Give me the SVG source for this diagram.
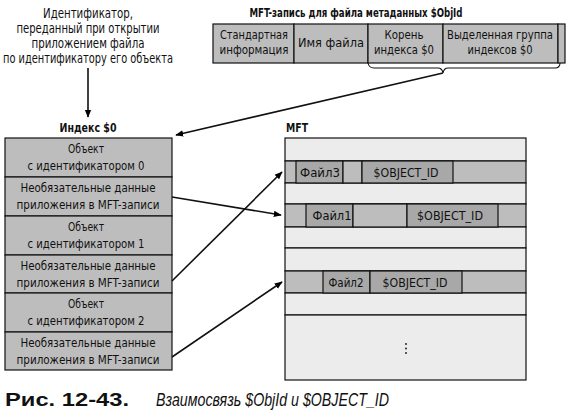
<svg xmlns="http://www.w3.org/2000/svg" width="570" height="413" viewBox="0 0 570 413">
<defs>
<marker id="ah" viewBox="0 0 10 10" refX="9" refY="5" markerWidth="8" markerHeight="8" markerUnits="userSpaceOnUse" orient="auto">
<path d="M0,1 L10,5 L0,9 z" fill="#000"/>
</marker>
</defs>
<style>
text{font-family:"DejaVu Sans Condensed","Liberation Sans",sans-serif;fill:#111;}
.t{font-size:13.5px;text-anchor:middle;}
.c{font-size:13px;text-anchor:middle;}
.b{font-size:13px;font-weight:bold;}
.cell{stroke:#111;stroke-width:1.2;}
.g{fill:#bdbdbd;}
.lt{fill:#ececec;}
.dk{fill:#a8a8a8;}
.ln{stroke:#111;stroke-width:1.6;fill:none;}
.cap{font-family:"Liberation Sans",Arial,sans-serif;}
</style>
<rect width="570" height="413" fill="#fff"/>

<g id="note">
<text class="t" x="88" y="18" textLength="90" lengthAdjust="spacingAndGlyphs">Идентификатор,</text>
<text class="t" x="88" y="33" textLength="143" lengthAdjust="spacingAndGlyphs">переданный при открытии</text>
<text class="t" x="88" y="48" textLength="113" lengthAdjust="spacingAndGlyphs">приложением файла</text>
<text class="t" x="88" y="63" textLength="170" lengthAdjust="spacingAndGlyphs">по идентификатору его объекта</text>
</g>

<g id="mft-record">
<text class="b" x="356" y="17" text-anchor="middle" textLength="213" lengthAdjust="spacingAndGlyphs">MFT-запись для файла метаданных $ObjId</text>
<rect class="cell g" x="213" y="24" width="81" height="39"/>
<rect class="cell g" x="294" y="24" width="74" height="39"/>
<rect class="cell g" x="368" y="24" width="75" height="39"/>
<rect class="cell g" x="443" y="24" width="115" height="39"/>
<rect class="cell g" x="558" y="24" width="7" height="39"/>
<text class="c" x="254" y="39" textLength="68" lengthAdjust="spacingAndGlyphs">Стандартная</text>
<text class="c" x="254" y="54" textLength="69" lengthAdjust="spacingAndGlyphs">информация</text>
<text class="c" x="331" y="47" textLength="66" lengthAdjust="spacingAndGlyphs">Имя файла</text>
<text class="c" x="404" y="39" textLength="39" lengthAdjust="spacingAndGlyphs">Корень</text>
<text class="c" x="404" y="54" textLength="60" lengthAdjust="spacingAndGlyphs">индекса $0</text>
<text class="c" x="500" y="39" textLength="106" lengthAdjust="spacingAndGlyphs">Выделенная группа</text>
<text class="c" x="500" y="54" textLength="65" lengthAdjust="spacingAndGlyphs">индексов $0</text>
</g>

<g id="index">
<text class="b" x="88" y="132" text-anchor="middle" textLength="57" lengthAdjust="spacingAndGlyphs">Индекс $0</text>
<rect class="cell g" x="5" y="138" width="167" height="39"/>
<rect class="cell g" x="5" y="177" width="167" height="39"/>
<rect class="cell g" x="5" y="216" width="167" height="39"/>
<rect class="cell g" x="5" y="255" width="167" height="38"/>
<rect class="cell g" x="5" y="293" width="167" height="39"/>
<rect class="cell g" x="5" y="332" width="167" height="38"/>
<text class="c" x="86" y="153" textLength="36" lengthAdjust="spacingAndGlyphs">Объект</text>
<text class="c" x="86" y="170" textLength="117" lengthAdjust="spacingAndGlyphs">с идентификатором 0</text>
<text class="c" x="88" y="192" textLength="135" lengthAdjust="spacingAndGlyphs">Необязательные данные</text>
<text class="c" x="88" y="209" textLength="143" lengthAdjust="spacingAndGlyphs">приложения в MFT-записи</text>
<text class="c" x="86" y="231" textLength="36" lengthAdjust="spacingAndGlyphs">Объект</text>
<text class="c" x="86" y="248" textLength="117" lengthAdjust="spacingAndGlyphs">с идентификатором 1</text>
<text class="c" x="88" y="270" textLength="135" lengthAdjust="spacingAndGlyphs">Необязательные данные</text>
<text class="c" x="88" y="287" textLength="143" lengthAdjust="spacingAndGlyphs">приложения в MFT-записи</text>
<text class="c" x="86" y="308" textLength="36" lengthAdjust="spacingAndGlyphs">Объект</text>
<text class="c" x="86" y="325" textLength="117" lengthAdjust="spacingAndGlyphs">с идентификатором 2</text>
<text class="c" x="88" y="347" textLength="135" lengthAdjust="spacingAndGlyphs">Необязательные данные</text>
<text class="c" x="88" y="364" textLength="143" lengthAdjust="spacingAndGlyphs">приложения в MFT-записи</text>
</g>

<g id="mft">
<text class="b" x="286" y="132" textLength="22" lengthAdjust="spacingAndGlyphs">MFT</text>
<rect class="cell lt" x="285" y="138" width="241" height="23"/>
<rect class="cell g" x="285" y="161" width="241" height="22"/>
<rect class="cell lt" x="285" y="183" width="241" height="21"/>
<rect class="cell g" x="285" y="204" width="241" height="23"/>
<rect class="cell lt" x="285" y="227" width="241" height="21"/>
<rect class="cell lt" x="285" y="248" width="241" height="23"/>
<rect class="cell g" x="285" y="271" width="241" height="22"/>
<rect class="cell lt" x="285" y="293" width="241" height="22"/>
<rect class="cell lt" x="285" y="315" width="241" height="65"/>
<rect class="cell dk" x="296" y="161" width="47" height="22"/>
<rect class="cell g" x="343" y="161" width="19" height="22"/>
<rect class="cell dk" x="362" y="161" width="91" height="22"/>
<rect class="cell dk" x="306" y="204" width="47" height="23"/>
<rect class="cell g" x="353" y="204" width="54" height="23"/>
<rect class="cell dk" x="407" y="204" width="91" height="23"/>
<rect class="cell dk" x="323" y="271" width="47" height="22"/>
<rect class="cell dk" x="370" y="271" width="92" height="22"/>
<text class="c" x="320" y="177" textLength="40" lengthAdjust="spacingAndGlyphs">Файл3</text>
<text class="c" x="406" y="177" textLength="65" lengthAdjust="spacingAndGlyphs">$OBJECT_ID</text>
<text class="c" x="332" y="220" textLength="39" lengthAdjust="spacingAndGlyphs">Файл1</text>
<text class="c" x="450" y="220" textLength="66" lengthAdjust="spacingAndGlyphs">$OBJECT_ID</text>
<text class="c" x="346" y="287" textLength="35" lengthAdjust="spacingAndGlyphs">Файл2</text>
<text class="c" x="415" y="287" textLength="65" lengthAdjust="spacingAndGlyphs">$OBJECT_ID</text>
<circle cx="406" cy="344" r="0.9" fill="#111"/>
<circle cx="406" cy="348.5" r="0.9" fill="#111"/>
<circle cx="406" cy="353" r="0.9" fill="#111"/>
</g>

<g id="connectors">
<line class="ln" x1="88" y1="68" x2="88" y2="117" marker-end="url(#ah)"/>
<path d="M368,63 Q369,68 374,68 L438,68 Q442,68 443,73 Q444,68 448,68 L555,68 Q560,68 560,63" stroke="#111" stroke-width="1.1" fill="none"/>
<line class="ln" x1="443" y1="73" x2="176" y2="135" marker-end="url(#ah)"/>
<line class="ln" x1="172" y1="197" x2="281" y2="215" marker-end="url(#ah)"/>
<line class="ln" x1="172" y1="281" x2="282" y2="172" marker-end="url(#ah)"/>
<line class="ln" x1="172" y1="357" x2="282" y2="282" marker-end="url(#ah)"/>
</g>

<g id="caption">
<text class="cap" x="5" y="406" font-size="19" font-weight="bold" textLength="124" lengthAdjust="spacingAndGlyphs">Рис. 12-43.</text>
<text class="cap" x="156" y="406" font-size="17.5" font-style="italic" textLength="233" lengthAdjust="spacingAndGlyphs">Взаимосвязь $ObjId и $OBJECT_ID</text>
</g>
</svg>
